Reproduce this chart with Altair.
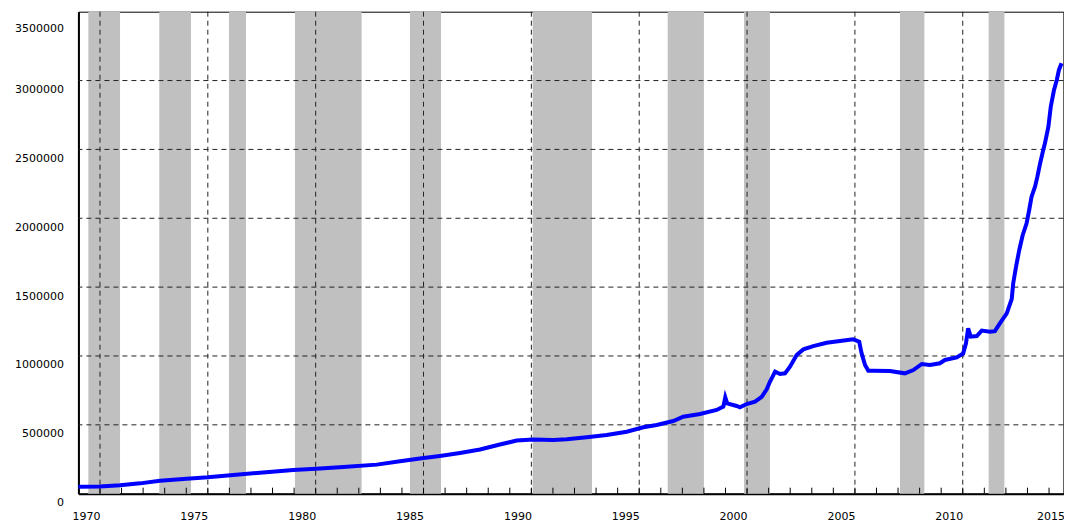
import altair as alt
import pandas as pd

# ---- data ----
years = [1970.00, 1971.00, 1971.93, 1972.86, 1973.78, 1975.02, 1976.00, 1977.18, 1978.42, 1979.96,
         1981.02, 1982.28, 1983.83, 1984.91, 1985.83, 1986.76, 1987.69, 1988.62, 1989.54, 1990.32,
         1991.08, 1992.02, 1992.64, 1993.57, 1994.49, 1995.42, 1996.19, 1996.81, 1997.58, 1998.04,
         1998.82, 1999.59, 1999.90, 1999.99, 2000.08, 2000.52, 2000.67, 2000.98, 2001.37, 2001.68,
         2001.91, 2002.06, 2002.30, 2002.53, 2002.76, 2002.99, 2003.30, 2003.61, 2004.07, 2004.69,
         2005.31, 2005.92, 2006.20, 2006.31, 2006.47, 2006.62, 2006.85, 2007.63, 2008.32, 2008.71,
         2009.10, 2009.48, 2009.94, 2010.17, 2010.72, 2011.02, 2011.15, 2011.25, 2011.37, 2011.65,
         2011.88, 2012.26, 2012.49, 2012.72, 2013.04, 2013.27, 2013.34, 2013.47, 2013.62, 2013.78,
         2013.96, 2014.08, 2014.19, 2014.35, 2014.46, 2014.58, 2014.73, 2014.81, 2014.97, 2015.08,
         2015.23, 2015.36, 2015.46, 2015.58]
values = [51000, 53000, 61000, 75000, 94000, 109000, 119000, 136000, 152000, 172000,
          181000, 194000, 211000, 235000, 255000, 274000, 296000, 321000, 357000, 386000,
          393000, 390000, 395000, 409000, 426000, 450000, 482000, 499000, 528000, 559000,
          579000, 608000, 632000, 700000, 656000, 637000, 627000, 651000, 668000, 704000,
          758000, 813000, 886000, 869000, 874000, 922000, 1007000, 1048000, 1072000, 1096000,
          1109000, 1121000, 1104000, 1019000, 934000, 893000, 893000, 891000, 874000, 898000,
          942000, 934000, 947000, 971000, 990000, 1019000, 1092000, 1201000, 1140000, 1145000,
          1184000, 1176000, 1180000, 1237000, 1310000, 1414000, 1528000, 1648000, 1770000, 1879000,
          1963000, 2060000, 2157000, 2229000, 2302000, 2394000, 2496000, 2544000, 2665000, 2810000,
          2931000, 3004000, 3077000, 3125000]

rec_start = [1970.46, 1973.75, 1976.98, 1980.04, 1985.37, 1991.06, 1997.32, 2000.86, 2008.09, 2012.20]
rec_end = [1971.93, 1975.22, 1977.77, 1983.13, 1986.81, 1993.81, 1999.00, 2002.06, 2009.22, 2012.93]

label_years = [1970, 1975, 1980, 1985, 1990, 1995, 2000, 2005, 2010, 2015]
grid_years = [1971, 1976, 1981, 1986, 1991, 1996, 2001, 2006, 2011]
minor_years = list(range(1971, 2016))
y_ticks = [0, 500000, 1000000, 1500000, 2000000, 2500000, 3000000, 3500000]
y_grid = [500000, 1000000, 1500000, 2000000, 2500000, 3000000]

df_line = pd.DataFrame({"year": years, "value": values})
df_rec = pd.DataFrame({"start": rec_start, "end": rec_end})
df_vgrid = pd.DataFrame({"year": grid_years})
df_hgrid = pd.DataFrame({"value": y_grid})
df_minor = pd.DataFrame({"year": minor_years})

FONT = "DejaVu Sans"
W, H = 985, 482
xs = alt.Scale(domain=[1970, 1970 + W / 21.57], nice=False, zero=False)
ys = alt.Scale(domain=[0, 3500000], nice=False, zero=True)

x_axis = alt.Axis(
    values=label_years, title=None, grid=False, ticks=False,
    labelOffset={"condition": {"test": "datum.value >= 2015", "value": 1.5}, "value": 7.6},
    labelPadding=23, labelBaseline="middle", labelFlush=False,
    labelOverlap=False, labelFont=FONT, labelFontSize=11, labelColor="black",
    domainColor="black", domainWidth=2, format="d")
y_axis = alt.Axis(
    values=y_ticks, title=None, grid=False, ticks=False,
    labelPadding=15, labelBaseline="middle",
    labelOffset={"condition": {"test": "datum.value >= 3500000", "value": 17}, "value": 9},
    labelFont=FONT, labelFontSize=11, labelColor="black",
    domainColor="black", domainWidth=2, format="d", labelOverlap=False)

bands = alt.Chart(df_rec).mark_rect(color="#c0c0c0").encode(
    x=alt.X("start:Q", scale=xs, axis=x_axis),
    x2="end:Q",
    y=alt.Y(datum=0, scale=ys, axis=y_axis),
    y2=alt.Y2(datum=3500000),
)

vgrid = alt.Chart(df_vgrid).mark_rule(color="#222222", strokeWidth=1, strokeDash=[5, 4]).encode(
    x=alt.X("year:Q", scale=xs, axis=x_axis),
)

hgrid = alt.Chart(df_hgrid).mark_rule(color="#222222", strokeWidth=1, strokeDash=[5, 4]).encode(
    y=alt.Y("value:Q", scale=ys, axis=y_axis),
)

minor = alt.Chart(df_minor).mark_rule(color="black", strokeWidth=1).encode(
    x=alt.X("year:Q", scale=xs, axis=x_axis),
    y=alt.value(H - 6),
    y2=alt.value(H),
)

line = alt.Chart(df_line).mark_line(color="#0000ff", strokeWidth=4).encode(
    x=alt.X("year:Q", scale=xs, axis=x_axis),
    y=alt.Y("value:Q", scale=ys, axis=y_axis),
)

chart = alt.layer(bands, vgrid, hgrid, minor, line).properties(
    width=W, height=H,
    autosize=alt.AutoSizeParams(type="none"),
    padding={"left": 70.4, "top": 3.7, "right": 0.5, "bottom": 30},
    background="white",
).configure_view(stroke="black", strokeWidth=1)

chart.save("out.html", embed_options={"renderer": "svg", "actions": False})
